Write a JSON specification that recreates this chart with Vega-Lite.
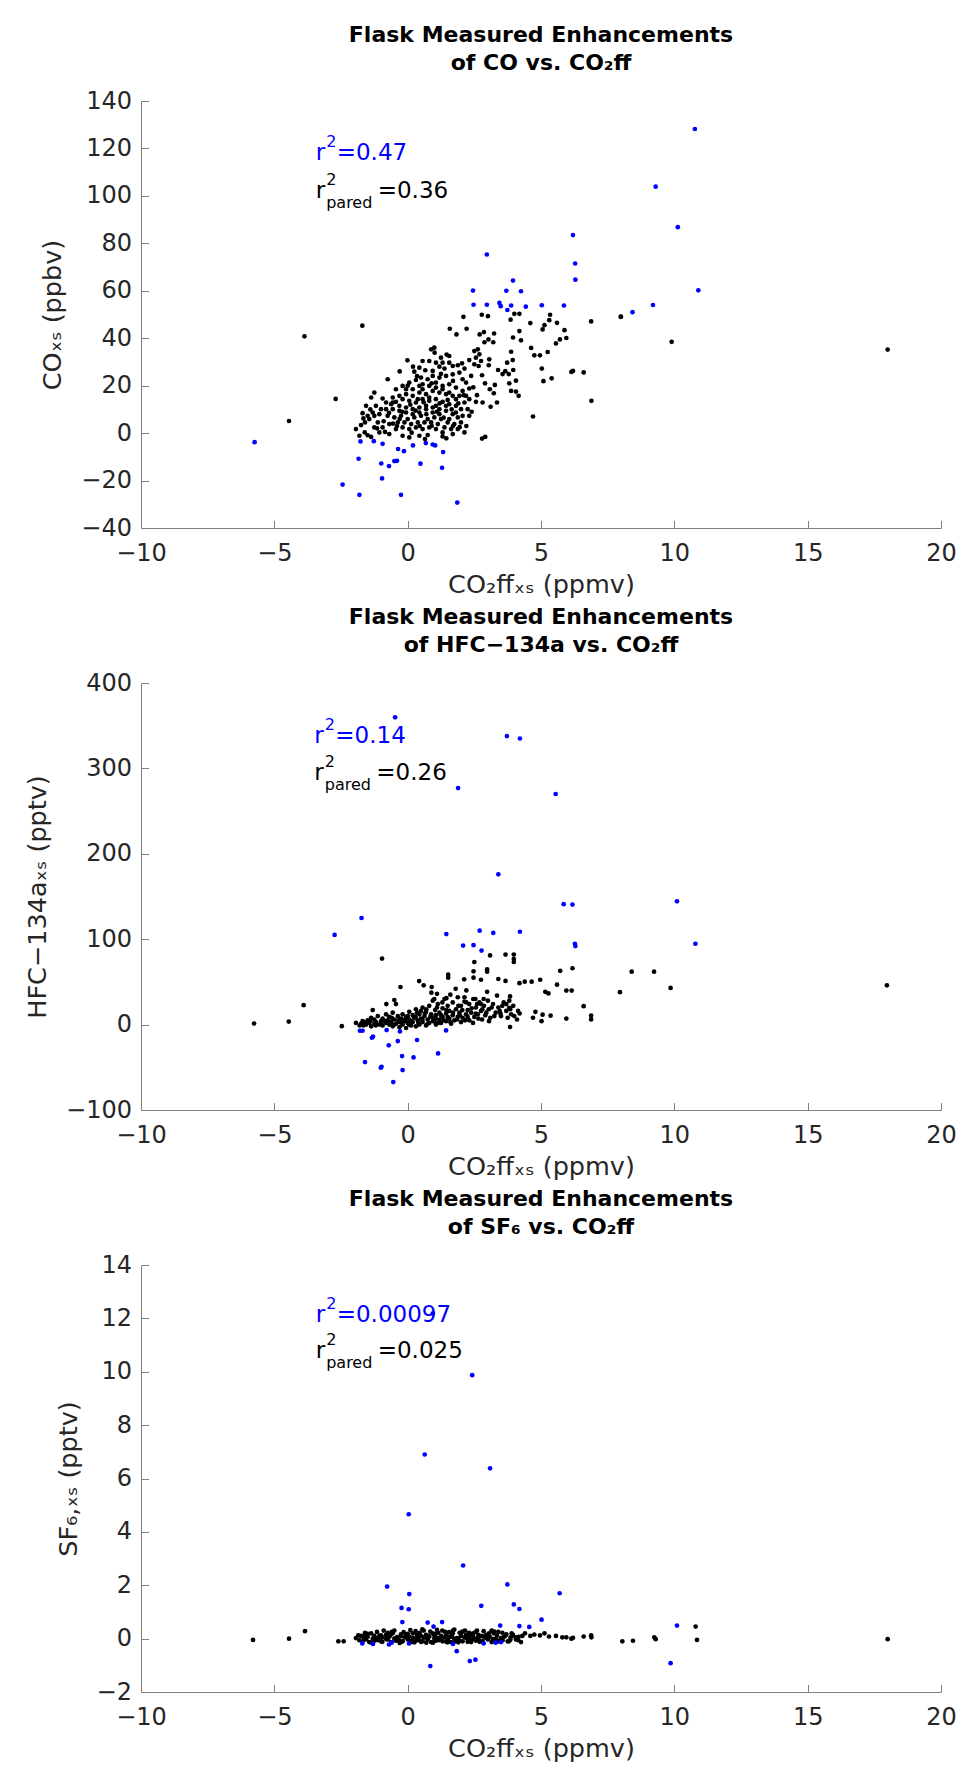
{
"$schema": "https://vega.github.io/schema/vega-lite/v6.json",
"background": "white",
"padding": {"left": 25, "top": 24, "right": 5, "bottom": 5},
"bounds": "flush",
"spacing": 155,
"config": {
  "font": "DejaVu Sans",
  "view": {"stroke": null},
  "axis": {"domainColor": "#808080", "tickColor": "#808080", "tickSize": -7.5, "labelFontSize": 24, "labelColor": "#262626", "labelFont": "DejaVu Sans", "titleFont": "DejaVu Sans", "titleFontSize": 25.5, "titleFontWeight": "normal", "titleColor": "#262626", "grid": false, "labelFlush": false, "labelOverlap": false},
  "axisX": {"labelPadding": 21, "titlePadding": 7},
  "axisY": {"labelPadding": 17, "titlePadding": 15},
  "title": {"font": "DejaVu Sans", "fontSize": 22, "fontWeight": "bold", "color": "#000000", "lineHeight": 28, "offset": 14, "anchor": "middle", "frame": "group"}
},
"datasets": {
"lab": [
{"p":1,"x":-3.45,"y":115,"part":"r","line":"all","t":"r"},
{"p":1,"x":-3.45,"y":115,"part":"sup","line":"all","t":"2"},
{"p":1,"x":-3.45,"y":115,"part":"eq1","line":"all","t":"=0.47"},
{"p":1,"x":-3.45,"y":99,"part":"r","line":"pared","t":"r"},
{"p":1,"x":-3.45,"y":99,"part":"sup","line":"pared","t":"2"},
{"p":1,"x":-3.45,"y":99,"part":"sub","line":"pared","t":"pared"},
{"p":1,"x":-3.45,"y":99,"part":"eq2","line":"pared","t":"=0.36"},
{"p":2,"x":-3.5,"y":330,"part":"r","line":"all","t":"r"},
{"p":2,"x":-3.5,"y":330,"part":"sup","line":"all","t":"2"},
{"p":2,"x":-3.5,"y":330,"part":"eq1","line":"all","t":"=0.14"},
{"p":2,"x":-3.5,"y":286,"part":"r","line":"pared","t":"r"},
{"p":2,"x":-3.5,"y":286,"part":"sup","line":"pared","t":"2"},
{"p":2,"x":-3.5,"y":286,"part":"sub","line":"pared","t":"pared"},
{"p":2,"x":-3.5,"y":286,"part":"eq2","line":"pared","t":"=0.26"},
{"p":3,"x":-3.45,"y":11.87,"part":"r","line":"all","t":"r"},
{"p":3,"x":-3.45,"y":11.87,"part":"sup","line":"all","t":"2"},
{"p":3,"x":-3.45,"y":11.87,"part":"eq1","line":"all","t":"=0.00097"},
{"p":3,"x":-3.45,"y":10.52,"part":"r","line":"pared","t":"r"},
{"p":3,"x":-3.45,"y":10.52,"part":"sup","line":"pared","t":"2"},
{"p":3,"x":-3.45,"y":10.52,"part":"sub","line":"pared","t":"pared"},
{"p":3,"x":-3.45,"y":10.52,"part":"eq2","line":"pared","t":"=0.025"}
],
"pts": [
{"p":1,"s":0,"x":2.09,"y":49.0},{"p":1,"s":0,"x":2.78,"y":49.9},{"p":1,"s":0,"x":3.01,"y":49.3},{"p":1,"s":0,"x":3.86,"y":47.8},{"p":1,"s":0,"x":4.0,"y":50.3},{"p":1,"s":0,"x":4.19,"y":50.3},{"p":1,"s":0,"x":4.6,"y":46.4},{"p":1,"s":0,"x":5.34,"y":49.9},{"p":1,"s":0,"x":5.31,"y":47.6},{"p":1,"s":0,"x":5.6,"y":46.5},{"p":1,"s":0,"x":5.13,"y":45.5},{"p":1,"s":0,"x":6.88,"y":47.1},{"p":1,"s":0,"x":7.99,"y":49.1},{"p":1,"s":0,"x":1.58,"y":44.0},{"p":1,"s":0,"x":1.83,"y":41.6},{"p":1,"s":0,"x":2.21,"y":44.0},{"p":1,"s":0,"x":2.7,"y":41.6},{"p":1,"s":0,"x":2.86,"y":42.6},{"p":1,"s":0,"x":3.24,"y":42.0},{"p":1,"s":0,"x":3.03,"y":39.5},{"p":1,"s":0,"x":3.21,"y":38.3},{"p":1,"s":0,"x":2.88,"y":38.3},{"p":1,"s":0,"x":4.19,"y":43.0},{"p":1,"s":0,"x":3.95,"y":40.3},{"p":1,"s":0,"x":4.25,"y":39.1},{"p":1,"s":0,"x":5.06,"y":43.7},{"p":1,"s":0,"x":5.88,"y":43.4},{"p":1,"s":0,"x":5.71,"y":39.5},{"p":1,"s":0,"x":5.95,"y":40.1},{"p":1,"s":0,"x":5.56,"y":37.8},{"p":1,"s":0,"x":4.63,"y":35.9},{"p":1,"s":0,"x":4.75,"y":32.8},{"p":1,"s":0,"x":4.96,"y":32.8},{"p":1,"s":0,"x":5.25,"y":34.2},{"p":1,"s":0,"x":5.03,"y":27.2},{"p":1,"s":0,"x":5.4,"y":23.1},{"p":1,"s":0,"x":5.09,"y":21.9},{"p":1,"s":0,"x":6.14,"y":25.8},{"p":1,"s":0,"x":6.2,"y":26.2},{"p":1,"s":0,"x":6.6,"y":25.6},{"p":1,"s":0,"x":6.89,"y":13.6},{"p":1,"s":0,"x":4.7,"y":7.0},{"p":1,"s":0,"x":3.88,"y":34.3},{"p":1,"s":0,"x":3.73,"y":29.7},{"p":1,"s":0,"x":3.94,"y":30.8},{"p":1,"s":0,"x":3.66,"y":26.1},{"p":1,"s":0,"x":3.56,"y":24.9},{"p":1,"s":0,"x":3.39,"y":26.6},{"p":1,"s":0,"x":3.79,"y":24.9},{"p":1,"s":0,"x":3.96,"y":26.6},{"p":1,"s":0,"x":4.06,"y":22.1},{"p":1,"s":0,"x":3.81,"y":21.0},{"p":1,"s":0,"x":3.88,"y":17.8},{"p":1,"s":0,"x":4.06,"y":17.5},{"p":1,"s":0,"x":4.16,"y":15.7},{"p":1,"s":0,"x":3.27,"y":20.3},{"p":1,"s":0,"x":3.08,"y":18.5},{"p":1,"s":0,"x":3.23,"y":16.8},{"p":1,"s":0,"x":3.35,"y":12.9},{"p":1,"s":0,"x":3.11,"y":11.1},{"p":1,"s":0,"x":2.81,"y":12.9},{"p":1,"s":0,"x":2.56,"y":13.2},{"p":1,"s":0,"x":2.79,"y":-2.3},{"p":1,"s":0,"x":2.91,"y":-1.6},{"p":1,"s":0,"x":2.31,"y":18.8},{"p":1,"s":0,"x":2.46,"y":19.3},{"p":1,"s":0,"x":3.06,"y":31.1},{"p":1,"s":0,"x":3.04,"y":28.6},{"p":1,"s":0,"x":2.5,"y":34.6},{"p":1,"s":0,"x":2.63,"y":35.3},{"p":1,"s":0,"x":2.69,"y":33.2},{"p":1,"s":0,"x":2.56,"y":31.8},{"p":1,"s":0,"x":2.5,"y":29.0},{"p":1,"s":0,"x":2.66,"y":28.3},{"p":1,"s":0,"x":2.79,"y":24.4},{"p":1,"s":0,"x":2.31,"y":30.8},{"p":1,"s":0,"x":2.75,"y":30.4},{"p":1,"s":0,"x":0.88,"y":35.3},{"p":1,"s":0,"x":1.01,"y":33.9},{"p":1,"s":0,"x":1.25,"y":31.8},{"p":1,"s":0,"x":1.46,"y":33.1},{"p":1,"s":0,"x":1.56,"y":32.5},{"p":1,"s":0,"x":-0.01,"y":30.7},{"p":1,"s":0,"x":0.44,"y":27.6},{"p":1,"s":0,"x":0.66,"y":26.5},{"p":1,"s":0,"x":0.94,"y":26.2},{"p":1,"s":0,"x":1.19,"y":28.0},{"p":1,"s":0,"x":1.38,"y":27.2},{"p":1,"s":0,"x":1.69,"y":28.3},{"p":1,"s":0,"x":1.88,"y":28.6},{"p":1,"s":0,"x":2.04,"y":29.4},{"p":1,"s":0,"x":2.13,"y":27.2},{"p":1,"s":0,"x":1.94,"y":25.5},{"p":1,"s":0,"x":1.69,"y":24.8},{"p":1,"s":0,"x":1.44,"y":24.1},{"p":1,"s":0,"x":1.19,"y":23.4},{"p":1,"s":0,"x":0.94,"y":24.1},{"p":1,"s":0,"x":0.75,"y":22.7},{"p":1,"s":0,"x":0.5,"y":23.4},{"p":1,"s":0,"x":0.31,"y":22.4},{"p":1,"s":0,"x":-0.75,"y":22.7},{"p":1,"s":0,"x":0.56,"y":20.6},{"p":1,"s":0,"x":0.81,"y":19.9},{"p":1,"s":0,"x":1.06,"y":21.3},{"p":1,"s":0,"x":1.31,"y":19.9},{"p":1,"s":0,"x":1.56,"y":20.6},{"p":1,"s":0,"x":1.81,"y":19.2},{"p":1,"s":0,"x":2.06,"y":17.8},{"p":1,"s":0,"x":1.94,"y":15.7},{"p":1,"s":0,"x":1.69,"y":15.7},{"p":1,"s":0,"x":1.44,"y":16.4},{"p":1,"s":0,"x":1.19,"y":17.1},{"p":1,"s":0,"x":0.94,"y":17.8},{"p":1,"s":0,"x":0.69,"y":16.4},{"p":1,"s":0,"x":0.44,"y":17.1},{"p":1,"s":0,"x":0.19,"y":15.7},{"p":1,"s":0,"x":-0.06,"y":16.4},{"p":1,"s":0,"x":-0.31,"y":15.7},{"p":1,"s":0,"x":-0.56,"y":15.0},{"p":1,"s":0,"x":-1.25,"y":17.1},{"p":1,"s":0,"x":-1.37,"y":15.0},{"p":1,"s":0,"x":-0.94,"y":14.6},{"p":1,"s":0,"x":-1.56,"y":11.5},{"p":1,"s":0,"x":-1.69,"y":8.4},{"p":1,"s":0,"x":-1.66,"y":6.2},{"p":1,"s":0,"x":-1.94,"y":1.7},{"p":1,"s":0,"x":-1.75,"y":3.4},{"p":1,"s":0,"x":-1.5,"y":-0.9},{"p":1,"s":0,"x":-1.61,"y":0.3},{"p":1,"s":0,"x":-1.37,"y":-1.6},{"p":1,"s":0,"x":-1.25,"y":7.3},{"p":1,"s":0,"x":-1.06,"y":8.0},{"p":1,"s":0,"x":-1.19,"y":11.5},{"p":1,"s":0,"x":-0.81,"y":10.1},{"p":1,"s":0,"x":-0.62,"y":12.2},{"p":1,"s":0,"x":-0.44,"y":13.2},{"p":1,"s":0,"x":-0.19,"y":14.3},{"p":1,"s":0,"x":0.06,"y":13.6},{"p":1,"s":0,"x":0.31,"y":12.9},{"p":1,"s":0,"x":0.56,"y":14.3},{"p":1,"s":0,"x":0.81,"y":13.6},{"p":1,"s":0,"x":1.06,"y":14.3},{"p":1,"s":0,"x":1.31,"y":13.2},{"p":1,"s":0,"x":1.56,"y":12.2},{"p":1,"s":0,"x":1.81,"y":11.5},{"p":1,"s":0,"x":2.0,"y":10.1},{"p":1,"s":0,"x":2.06,"y":7.3},{"p":1,"s":0,"x":1.88,"y":6.6},{"p":1,"s":0,"x":1.69,"y":8.0},{"p":1,"s":0,"x":1.44,"y":9.4},{"p":1,"s":0,"x":1.19,"y":10.1},{"p":1,"s":0,"x":0.94,"y":10.8},{"p":1,"s":0,"x":0.69,"y":10.1},{"p":1,"s":0,"x":0.44,"y":10.8},{"p":1,"s":0,"x":0.19,"y":10.1},{"p":1,"s":0,"x":-0.06,"y":10.8},{"p":1,"s":0,"x":-0.31,"y":9.4},{"p":1,"s":0,"x":-0.56,"y":10.1},{"p":1,"s":0,"x":-0.75,"y":7.3},{"p":1,"s":0,"x":-0.5,"y":6.6},{"p":1,"s":0,"x":-0.25,"y":7.3},{"p":1,"s":0,"x":0.0,"y":5.9},{"p":1,"s":0,"x":0.25,"y":6.6},{"p":1,"s":0,"x":0.5,"y":7.3},{"p":1,"s":0,"x":0.75,"y":5.9},{"p":1,"s":0,"x":1.0,"y":6.6},{"p":1,"s":0,"x":1.25,"y":5.9},{"p":1,"s":0,"x":1.5,"y":4.5},{"p":1,"s":0,"x":1.75,"y":3.8},{"p":1,"s":0,"x":2.0,"y":4.5},{"p":1,"s":0,"x":2.13,"y":0.3},{"p":1,"s":0,"x":1.69,"y":-0.4},{"p":1,"s":0,"x":1.31,"y":0.3},{"p":1,"s":0,"x":1.06,"y":1.7},{"p":1,"s":0,"x":0.81,"y":2.4},{"p":1,"s":0,"x":0.56,"y":1.7},{"p":1,"s":0,"x":0.31,"y":2.4},{"p":1,"s":0,"x":0.06,"y":1.7},{"p":1,"s":0,"x":-0.19,"y":2.4},{"p":1,"s":0,"x":-0.44,"y":1.7},{"p":1,"s":0,"x":-0.69,"y":3.8},{"p":1,"s":0,"x":-0.94,"y":2.4},{"p":1,"s":0,"x":-1.12,"y":4.5},{"p":1,"s":0,"x":-1.44,"y":5.9},{"p":1,"s":0,"x":-0.19,"y":-1.1},{"p":1,"s":0,"x":0.06,"y":-1.8},{"p":1,"s":0,"x":0.44,"y":-1.1},{"p":1,"s":0,"x":0.75,"y":-0.8},{"p":1,"s":0,"x":1.31,"y":-1.4},{"p":1,"s":0,"x":-0.69,"y":-0.4},{"p":1,"s":0,"x":-1.06,"y":0.3},{"p":1,"s":0,"x":0.63,"y":4.5},{"p":1,"s":0,"x":0.88,"y":4.5},{"p":1,"s":0,"x":0.38,"y":4.5},{"p":1,"s":0,"x":0.13,"y":3.8},{"p":1,"s":0,"x":-0.12,"y":4.5},{"p":1,"s":0,"x":-0.37,"y":4.5},{"p":1,"s":0,"x":1.13,"y":3.8},{"p":1,"s":0,"x":1.38,"y":2.4},{"p":1,"s":0,"x":1.63,"y":1.7},{"p":1,"s":0,"x":1.88,"y":1.7},{"p":1,"s":0,"x":0.25,"y":25.9},{"p":1,"s":0,"x":0.06,"y":21.3},{"p":1,"s":0,"x":-0.19,"y":19.9},{"p":1,"s":0,"x":-0.44,"y":18.5},{"p":1,"s":0,"x":-0.06,"y":18.5},{"p":1,"s":0,"x":0.56,"y":18.5},{"p":1,"s":0,"x":1.31,"y":18.5},{"p":1,"s":0,"x":1.06,"y":19.2},{"p":1,"s":0,"x":1.56,"y":17.1},{"p":1,"s":0,"x":1.81,"y":14.3},{"p":1,"s":0,"x":2.13,"y":12.9},{"p":1,"s":0,"x":2.19,"y":15.7},{"p":1,"s":0,"x":2.38,"y":24.1},{"p":1,"s":0,"x":2.19,"y":21.3},{"p":1,"s":0,"x":2.06,"y":22.7},{"p":1,"s":0,"x":2.31,"y":14.3},{"p":1,"s":0,"x":2.25,"y":10.1},{"p":1,"s":0,"x":2.31,"y":7.3},{"p":1,"s":0,"x":0.81,"y":30.4},{"p":1,"s":0,"x":0.56,"y":30.4},{"p":1,"s":0,"x":1.06,"y":29.7},{"p":1,"s":0,"x":1.56,"y":29.7},{"p":1,"s":0,"x":1.31,"y":29.7},{"p":1,"s":0,"x":0.44,"y":19.9},{"p":1,"s":0,"x":0.19,"y":18.5},{"p":1,"s":0,"x":0.69,"y":11.5},{"p":1,"s":0,"x":0.94,"y":8.7},{"p":1,"s":0,"x":1.19,"y":8.0},{"p":1,"s":0,"x":0.44,"y":8.7},{"p":1,"s":0,"x":0.19,"y":8.0},{"p":1,"s":0,"x":-0.06,"y":8.7},{"p":1,"s":0,"x":-0.31,"y":11.5},{"p":1,"s":0,"x":-0.56,"y":12.9},{"p":1,"s":0,"x":-0.81,"y":12.9},{"p":1,"s":0,"x":-1.0,"y":10.1},{"p":1,"s":0,"x":-1.31,"y":8.7},{"p":1,"s":0,"x":-1.5,"y":7.3},{"p":1,"s":0,"x":-1.25,"y":2.4},{"p":1,"s":0,"x":-1.81,"y":-1.1},{"p":1,"s":0,"x":1.56,"y":5.9},{"p":1,"s":0,"x":1.81,"y":8.7},{"p":1,"s":0,"x":0.81,"y":15.0},{"p":1,"s":0,"x":1.06,"y":11.5},{"p":1,"s":0,"x":1.44,"y":11.5},{"p":1,"s":0,"x":0.38,"y":14.3},{"p":1,"s":0,"x":-1.7,"y":45.3},{"p":1,"s":0,"x":-3.87,"y":40.8},{"p":1,"s":0,"x":-4.45,"y":5.1},{"p":1,"s":0,"x":-2.7,"y":14.4},{"p":1,"s":0,"x":18.0,"y":35.2},{"p":1,"s":0,"x":9.9,"y":38.5},{"p":1,"s":0,"x":8.0,"y":49.0},
{"p":1,"s":0,"x":-0.9,"y":5},{"p":1,"s":0,"x":-0.7,"y":8.5},{"p":1,"s":0,"x":-0.4,"y":3},{"p":1,"s":0,"x":-0.2,"y":9},{"p":1,"s":0,"x":0.1,"y":12},{"p":1,"s":0,"x":0.3,"y":9.5},{"p":1,"s":0,"x":0.45,"y":3},{"p":1,"s":0,"x":0.6,"y":13},{"p":1,"s":0,"x":0.7,"y":8},{"p":1,"s":0,"x":0.9,"y":3},{"p":1,"s":0,"x":1.1,"y":9},{"p":1,"s":0,"x":1.2,"y":12.5},{"p":1,"s":0,"x":1.35,"y":6.5},{"p":1,"s":0,"x":1.5,"y":14},{"p":1,"s":0,"x":1.65,"y":10},{"p":1,"s":0,"x":1.7,"y":3},{"p":1,"s":0,"x":1.9,"y":12.5},{"p":1,"s":0,"x":2.1,"y":16},{"p":1,"s":0,"x":0.0,"y":20},{"p":1,"s":0,"x":0.35,"y":24},{"p":1,"s":0,"x":0.9,"y":21},{"p":1,"s":0,"x":1.25,"y":25},{"p":1,"s":0,"x":1.7,"y":22},{"p":1,"s":0,"x":0.2,"y":28},{"p":1,"s":0,"x":-0.3,"y":6},{"p":1,"s":0,"x":-0.55,"y":4},{"p":1,"s":0,"x":-0.85,"y":0.5},{"p":1,"s":0,"x":-1.15,"y":2},{"p":1,"s":0,"x":-1.4,"y":10},{"p":1,"s":0,"x":-1.6,"y":4.5},{"p":1,"s":0,"x":0.65,"y":-2.5},{"p":1,"s":0,"x":1.45,"y":-2.2},{"p":1,"s":0,"x":0.15,"y":0.2},{"p":1,"s":0,"x":1.95,"y":2.5},{"p":1,"s":0,"x":2.2,"y":3},{"p":1,"s":0,"x":2.4,"y":9},{"p":1,"s":0,"x":2.6,"y":16},{"p":1,"s":0,"x":2.9,"y":21},{"p":1,"s":0,"x":1.0,"y":36},{"p":1,"s":0,"x":-0.3,"y":26},
{"p":1,"s":1,"x":2.97,"y":75.3},{"p":1,"s":1,"x":6.28,"y":71.5},{"p":1,"s":1,"x":6.29,"y":64.7},{"p":1,"s":1,"x":3.95,"y":64.3},{"p":1,"s":1,"x":2.45,"y":60.1},{"p":1,"s":1,"x":3.7,"y":60.0},{"p":1,"s":1,"x":4.25,"y":59.8},{"p":1,"s":1,"x":2.47,"y":54.1},{"p":1,"s":1,"x":2.97,"y":54.1},{"p":1,"s":1,"x":3.44,"y":54.9},{"p":1,"s":1,"x":3.49,"y":53.5},{"p":1,"s":1,"x":3.88,"y":53.8},{"p":1,"s":1,"x":3.74,"y":51.9},{"p":1,"s":1,"x":4.43,"y":53.3},{"p":1,"s":1,"x":5.03,"y":53.9},{"p":1,"s":1,"x":5.86,"y":53.8},{"p":1,"s":1,"x":8.43,"y":51.0},{"p":1,"s":1,"x":10.77,"y":128.2},{"p":1,"s":1,"x":9.3,"y":103.9},{"p":1,"s":1,"x":10.13,"y":86.8},{"p":1,"s":1,"x":6.2,"y":83.5},{"p":1,"s":1,"x":10.9,"y":60.2},{"p":1,"s":1,"x":9.2,"y":54.0},{"p":1,"s":1,"x":-5.74,"y":-3.8},{"p":1,"s":1,"x":-1.77,"y":-3.5},{"p":1,"s":1,"x":-1.27,"y":-3.4},{"p":1,"s":1,"x":-0.94,"y":-4.5},{"p":1,"s":1,"x":-0.36,"y":-6.7},{"p":1,"s":1,"x":-0.14,"y":-7.6},{"p":1,"s":1,"x":0.2,"y":-5.2},{"p":1,"s":1,"x":0.68,"y":-4.2},{"p":1,"s":1,"x":0.94,"y":-4.8},{"p":1,"s":1,"x":1.03,"y":-5.2},{"p":1,"s":1,"x":1.33,"y":-8.0},{"p":1,"s":1,"x":-1.84,"y":-10.8},{"p":1,"s":1,"x":-0.99,"y":-12.8},{"p":1,"s":1,"x":-0.7,"y":-13.9},{"p":1,"s":1,"x":-0.5,"y":-11.8},{"p":1,"s":1,"x":-0.4,"y":-11.7},{"p":1,"s":1,"x":0.48,"y":-12.9},{"p":1,"s":1,"x":1.29,"y":-14.6},{"p":1,"s":1,"x":-0.96,"y":-19.1},{"p":1,"s":1,"x":-2.44,"y":-21.7},{"p":1,"s":1,"x":-1.81,"y":-26.0},{"p":1,"s":1,"x":-0.25,"y":-26.0},{"p":1,"s":1,"x":1.86,"y":-29.3},

{"p":2,"s":0,"x":-1.94,"y":2},{"p":2,"s":0,"x":-1.75,"y":1},{"p":2,"s":0,"x":-1.69,"y":4},{"p":2,"s":0,"x":-1.66,"y":-1},{"p":2,"s":0,"x":-1.61,"y":3},{"p":2,"s":0,"x":-1.56,"y":0},{"p":2,"s":0,"x":-1.5,"y":5},{"p":2,"s":0,"x":-1.44,"y":2},{"p":2,"s":0,"x":-1.37,"y":8},{"p":2,"s":0,"x":-1.37,"y":-2},{"p":2,"s":0,"x":-1.31,"y":17},{"p":2,"s":0,"x":-1.25,"y":1},{"p":2,"s":0,"x":-1.25,"y":6},{"p":2,"s":0,"x":-1.19,"y":3},{"p":2,"s":0,"x":-1.12,"y":10},{"p":2,"s":0,"x":-1.06,"y":0},{"p":2,"s":0,"x":-1.0,"y":4},{"p":2,"s":0,"x":-0.94,"y":7},{"p":2,"s":0,"x":-0.94,"y":-1},{"p":2,"s":0,"x":-0.81,"y":2},{"p":2,"s":0,"x":-0.81,"y":12},{"p":2,"s":0,"x":-0.75,"y":5},{"p":2,"s":0,"x":-0.69,"y":0},{"p":2,"s":0,"x":-0.69,"y":9},{"p":2,"s":0,"x":-0.62,"y":3},{"p":2,"s":0,"x":-0.56,"y":14},{"p":2,"s":0,"x":-0.56,"y":-2},{"p":2,"s":0,"x":-0.5,"y":6},{"p":2,"s":0,"x":-0.44,"y":1},{"p":2,"s":0,"x":-0.44,"y":24},{"p":2,"s":0,"x":-0.37,"y":10},{"p":2,"s":0,"x":-0.31,"y":3},{"p":2,"s":0,"x":-0.31,"y":-3},{"p":2,"s":0,"x":-0.25,"y":7},{"p":2,"s":0,"x":-0.19,"y":12},{"p":2,"s":0,"x":-0.19,"y":0},{"p":2,"s":0,"x":-0.12,"y":4},{"p":2,"s":0,"x":-0.06,"y":9},{"p":2,"s":0,"x":-0.06,"y":-4},{"p":2,"s":0,"x":0.0,"y":2},{"p":2,"s":0,"x":0.06,"y":15},{"p":2,"s":0,"x":0.06,"y":6},{"p":2,"s":0,"x":0.13,"y":-1},{"p":2,"s":0,"x":0.19,"y":11},{"p":2,"s":0,"x":0.19,"y":3},{"p":2,"s":0,"x":0.25,"y":8},{"p":2,"s":0,"x":0.31,"y":-2},{"p":2,"s":0,"x":0.31,"y":18},{"p":2,"s":0,"x":0.38,"y":5},{"p":2,"s":0,"x":0.44,"y":12},{"p":2,"s":0,"x":0.44,"y":0},{"p":2,"s":0,"x":0.5,"y":7},{"p":2,"s":0,"x":0.56,"y":20},{"p":2,"s":0,"x":0.56,"y":3},{"p":2,"s":0,"x":0.63,"y":10},{"p":2,"s":0,"x":0.69,"y":-1},{"p":2,"s":0,"x":0.69,"y":15},{"p":2,"s":0,"x":0.75,"y":6},{"p":2,"s":0,"x":0.81,"y":22},{"p":2,"s":0,"x":0.81,"y":2},{"p":2,"s":0,"x":0.88,"y":12},{"p":2,"s":0,"x":0.94,"y":8},{"p":2,"s":0,"x":0.94,"y":28},{"p":2,"s":0,"x":1.0,"y":4},{"p":2,"s":0,"x":1.03,"y":17},{"p":2,"s":0,"x":1.06,"y":0},{"p":2,"s":0,"x":1.06,"y":11},{"p":2,"s":0,"x":1.13,"y":24},{"p":2,"s":0,"x":1.19,"y":6},{"p":2,"s":0,"x":1.19,"y":14},{"p":2,"s":0,"x":1.25,"y":2},{"p":2,"s":0,"x":1.31,"y":19},{"p":2,"s":0,"x":1.31,"y":9},{"p":2,"s":0,"x":1.38,"y":30},{"p":2,"s":0,"x":1.44,"y":4},{"p":2,"s":0,"x":1.44,"y":13},{"p":2,"s":0,"x":1.5,"y":22},{"p":2,"s":0,"x":1.56,"y":7},{"p":2,"s":0,"x":1.56,"y":16},{"p":2,"s":0,"x":1.63,"y":1},{"p":2,"s":0,"x":1.69,"y":26},{"p":2,"s":0,"x":1.69,"y":11},{"p":2,"s":0,"x":1.75,"y":5},{"p":2,"s":0,"x":1.81,"y":18},{"p":2,"s":0,"x":1.88,"y":9},{"p":2,"s":0,"x":1.88,"y":32},{"p":2,"s":0,"x":1.94,"y":14},{"p":2,"s":0,"x":2.0,"y":3},{"p":2,"s":0,"x":2.0,"y":22},{"p":2,"s":0,"x":2.06,"y":8},{"p":2,"s":0,"x":2.13,"y":27},{"p":2,"s":0,"x":2.19,"y":12},{"p":2,"s":0,"x":2.25,"y":17},{"p":2,"s":0,"x":2.31,"y":5},{"p":2,"s":0,"x":2.31,"y":24},{"p":2,"s":0,"x":2.38,"y":14},{"p":2,"s":0,"x":2.46,"y":30},{"p":2,"s":0,"x":2.5,"y":9},{"p":2,"s":0,"x":2.56,"y":20},{"p":2,"s":0,"x":2.63,"y":12},{"p":2,"s":0,"x":2.69,"y":26},{"p":2,"s":0,"x":2.75,"y":16},{"p":2,"s":0,"x":2.79,"y":6},{"p":2,"s":0,"x":2.86,"y":22},{"p":2,"s":0,"x":2.91,"y":11},{"p":2,"s":0,"x":3.01,"y":28},{"p":2,"s":0,"x":3.04,"y":18},{"p":2,"s":0,"x":3.1,"y":8},{"p":2,"s":0,"x":3.2,"y":24},{"p":2,"s":0,"x":3.3,"y":14},{"p":2,"s":0,"x":3.4,"y":20},{"p":2,"s":0,"x":3.5,"y":10},{"p":2,"s":0,"x":3.6,"y":26},{"p":2,"s":0,"x":3.7,"y":16},{"p":2,"s":0,"x":3.88,"y":12},{"p":2,"s":0,"x":3.96,"y":22},{"p":2,"s":0,"x":4.1,"y":6},{"p":2,"s":0,"x":4.2,"y":13},{"p":2,"s":0,"x":0.43,"y":51},{"p":2,"s":0,"x":0.6,"y":46},{"p":2,"s":0,"x":-0.27,"y":44},{"p":2,"s":0,"x":-0.5,"y":28.7},{"p":2,"s":0,"x":-0.8,"y":24},{"p":2,"s":0,"x":0.89,"y":37.4},{"p":2,"s":0,"x":1.45,"y":31},{"p":2,"s":0,"x":2.13,"y":32},{"p":2,"s":0,"x":2.54,"y":30},{"p":2,"s":0,"x":2.75,"y":24},{"p":2,"s":0,"x":2.98,"y":38.4},{"p":2,"s":0,"x":3.48,"y":12.8},{"p":2,"s":0,"x":3.7,"y":24},{"p":2,"s":0,"x":3.81,"y":28},{"p":2,"s":0,"x":3.84,"y":33},{"p":2,"s":0,"x":3.84,"y":-2.8},{"p":2,"s":0,"x":3.81,"y":19.6},{"p":2,"s":0,"x":4.14,"y":16},{"p":2,"s":0,"x":4.7,"y":8},{"p":2,"s":0,"x":4.79,"y":15},{"p":2,"s":0,"x":3.98,"y":82},{"p":2,"s":0,"x":3.98,"y":76.8},{"p":2,"s":0,"x":3.98,"y":73.3},{"p":2,"s":0,"x":3.67,"y":82},{"p":2,"s":0,"x":3.09,"y":81},{"p":2,"s":0,"x":2.98,"y":64.6},{"p":2,"s":0,"x":2.98,"y":62},{"p":2,"s":0,"x":2.47,"y":62.4},{"p":2,"s":0,"x":2.5,"y":73.3},{"p":2,"s":0,"x":1.52,"y":58.5},{"p":2,"s":0,"x":1.52,"y":55},{"p":2,"s":0,"x":2.12,"y":53},{"p":2,"s":0,"x":2.47,"y":55},{"p":2,"s":0,"x":2.75,"y":52.5},{"p":2,"s":0,"x":3.4,"y":53.4},{"p":2,"s":0,"x":3.67,"y":51.2},{"p":2,"s":0,"x":4.19,"y":48.5},{"p":2,"s":0,"x":4.39,"y":50.3},{"p":2,"s":0,"x":4.65,"y":50.3},{"p":2,"s":0,"x":4.97,"y":52.5},{"p":2,"s":0,"x":5.6,"y":46.8},{"p":2,"s":0,"x":5.16,"y":38.4},{"p":2,"s":0,"x":5.28,"y":36.5},{"p":2,"s":0,"x":5.36,"y":10.6},{"p":2,"s":0,"x":5.02,"y":4},{"p":2,"s":0,"x":5.06,"y":11.6},{"p":2,"s":0,"x":5.95,"y":7},{"p":2,"s":0,"x":5.95,"y":39.8},{"p":2,"s":0,"x":6.15,"y":39.8},{"p":2,"s":0,"x":5.72,"y":63},{"p":2,"s":0,"x":6.18,"y":66},{"p":2,"s":0,"x":6.6,"y":21.6},{"p":2,"s":0,"x":6.88,"y":10.6},{"p":2,"s":0,"x":6.88,"y":6.1},{"p":2,"s":0,"x":7.96,"y":38},{"p":2,"s":0,"x":8.4,"y":62},{"p":2,"s":0,"x":9.24,"y":62},{"p":2,"s":0,"x":9.86,"y":43},{"p":2,"s":0,"x":17.97,"y":46},{"p":2,"s":0,"x":-0.96,"y":77.3},{"p":2,"s":0,"x":-2.47,"y":-1.8},{"p":2,"s":0,"x":-3.9,"y":22.8},{"p":2,"s":0,"x":-4.46,"y":3.5},{"p":2,"s":0,"x":-5.76,"y":1.3},{"p":2,"s":0,"x":1.1,"y":36},{"p":2,"s":0,"x":1.8,"y":42},{"p":2,"s":0,"x":0.9,"y":44},{"p":2,"s":0,"x":1.6,"y":35},{"p":2,"s":0,"x":2.2,"y":40},
{"p":2,"s":0,"x":-1.8,"y":-1},{"p":2,"s":0,"x":-1.6,"y":1.5},{"p":2,"s":0,"x":-1.4,"y":4},{"p":2,"s":0,"x":-1.2,"y":-1},{"p":2,"s":0,"x":-1.0,"y":1},{"p":2,"s":0,"x":-0.85,"y":4},{"p":2,"s":0,"x":-0.7,"y":2},{"p":2,"s":0,"x":-0.5,"y":0},{"p":2,"s":0,"x":-0.35,"y":5},{"p":2,"s":0,"x":-0.2,"y":2},{"p":2,"s":0,"x":-0.1,"y":6},{"p":2,"s":0,"x":0.05,"y":0},{"p":2,"s":0,"x":0.15,"y":4},{"p":2,"s":0,"x":0.3,"y":9},{"p":2,"s":0,"x":0.4,"y":2},{"p":2,"s":0,"x":0.55,"y":6},{"p":2,"s":0,"x":0.65,"y":13},{"p":2,"s":0,"x":0.75,"y":1},{"p":2,"s":0,"x":0.85,"y":9},{"p":2,"s":0,"x":0.95,"y":4},{"p":2,"s":0,"x":1.05,"y":7},{"p":2,"s":0,"x":1.15,"y":2},{"p":2,"s":0,"x":1.25,"y":11},{"p":2,"s":0,"x":1.35,"y":5},{"p":2,"s":0,"x":1.5,"y":9},{"p":2,"s":0,"x":1.6,"y":3},{"p":2,"s":0,"x":1.7,"y":14},{"p":2,"s":0,"x":1.85,"y":6},{"p":2,"s":0,"x":1.95,"y":11},{"p":2,"s":0,"x":2.05,"y":17},{"p":2,"s":0,"x":2.15,"y":5},{"p":2,"s":0,"x":2.25,"y":9},{"p":2,"s":0,"x":2.4,"y":19},{"p":2,"s":0,"x":2.45,"y":2},{"p":2,"s":0,"x":2.55,"y":13},{"p":2,"s":0,"x":2.65,"y":7},{"p":2,"s":0,"x":2.8,"y":18},{"p":2,"s":0,"x":2.95,"y":14},{"p":2,"s":0,"x":3.05,"y":4},{"p":2,"s":0,"x":3.15,"y":20},{"p":2,"s":0,"x":3.25,"y":10},{"p":2,"s":0,"x":3.45,"y":16},{"p":2,"s":0,"x":3.55,"y":22},{"p":2,"s":0,"x":3.75,"y":8},{"p":2,"s":0,"x":3.85,"y":18},{"p":2,"s":0,"x":4.0,"y":10},{"p":2,"s":0,"x":0.35,"y":14},{"p":2,"s":0,"x":0.7,"y":18},{"p":2,"s":0,"x":1.1,"y":20},{"p":2,"s":0,"x":1.45,"y":17},{"p":2,"s":0,"x":1.9,"y":22},{"p":2,"s":0,"x":2.2,"y":26},{"p":2,"s":0,"x":2.6,"y":24},{"p":2,"s":0,"x":0.0,"y":10},{"p":2,"s":0,"x":-0.6,"y":8},{"p":2,"s":0,"x":0.5,"y":16},{"p":2,"s":0,"x":1.3,"y":26},{"p":2,"s":0,"x":2.85,"y":30},{"p":2,"s":0,"x":3.35,"y":34},{"p":2,"s":0,"x":1.0,"y":30},
{"p":2,"s":1,"x":-0.47,"y":359.8},{"p":2,"s":1,"x":3.72,"y":337.8},{"p":2,"s":1,"x":4.21,"y":335},{"p":2,"s":1,"x":1.89,"y":277},{"p":2,"s":1,"x":5.55,"y":270},{"p":2,"s":1,"x":3.4,"y":176},{"p":2,"s":1,"x":5.85,"y":141},{"p":2,"s":1,"x":6.18,"y":140.5},{"p":2,"s":1,"x":10.1,"y":144.4},{"p":2,"s":1,"x":-1.73,"y":124.8},{"p":2,"s":1,"x":-2.74,"y":105},{"p":2,"s":1,"x":1.45,"y":106},{"p":2,"s":1,"x":2.7,"y":110},{"p":2,"s":1,"x":3.21,"y":107.3},{"p":2,"s":1,"x":4.21,"y":108.7},{"p":2,"s":1,"x":2.08,"y":92.5},{"p":2,"s":1,"x":2.47,"y":93},{"p":2,"s":1,"x":2.77,"y":86.7},{"p":2,"s":1,"x":6.27,"y":94.7},{"p":2,"s":1,"x":6.29,"y":92},{"p":2,"s":1,"x":10.79,"y":94.7},{"p":2,"s":1,"x":-1.79,"y":-7.2},{"p":2,"s":1,"x":-1.69,"y":-7.2},{"p":2,"s":1,"x":-1.34,"y":-15.4},{"p":2,"s":1,"x":-1.3,"y":-14},{"p":2,"s":1,"x":-0.71,"y":-24.3},{"p":2,"s":1,"x":-0.37,"y":-19.3},{"p":2,"s":1,"x":-0.79,"y":-6.4},{"p":2,"s":1,"x":-0.29,"y":-8.0},{"p":2,"s":1,"x":0.35,"y":-18},{"p":2,"s":1,"x":1.44,"y":-6.8},{"p":2,"s":1,"x":-1.6,"y":-43.9},{"p":2,"s":1,"x":-0.98,"y":-49.5},{"p":2,"s":1,"x":-1.01,"y":-50.5},{"p":2,"s":1,"x":-0.21,"y":-36.9},{"p":2,"s":1,"x":0.22,"y":-38.4},{"p":2,"s":1,"x":1.14,"y":-33.7},{"p":2,"s":1,"x":-0.19,"y":-53.2},{"p":2,"s":1,"x":-0.54,"y":-67.3},

{"p":3,"s":0,"x":-1.94,"y":0.02},{"p":3,"s":0,"x":-1.81,"y":-0.06},{"p":3,"s":0,"x":-1.75,"y":0.1},{"p":3,"s":0,"x":-1.69,"y":-0.1},{"p":3,"s":0,"x":-1.66,"y":0.05},{"p":3,"s":0,"x":-1.61,"y":0.14},{"p":3,"s":0,"x":-1.56,"y":-0.03},{"p":3,"s":0,"x":-1.5,"y":0.07},{"p":3,"s":0,"x":-1.44,"y":-0.13},{"p":3,"s":0,"x":-1.37,"y":0.2},{"p":3,"s":0,"x":-1.31,"y":0.0},{"p":3,"s":0,"x":-1.25,"y":-0.08},{"p":3,"s":0,"x":-1.19,"y":0.02},{"p":3,"s":0,"x":-1.12,"y":-0.06},{"p":3,"s":0,"x":-1.06,"y":0.1},{"p":3,"s":0,"x":-1.0,"y":-0.1},{"p":3,"s":0,"x":-0.94,"y":0.05},{"p":3,"s":0,"x":-0.81,"y":0.14},{"p":3,"s":0,"x":-0.75,"y":-0.03},{"p":3,"s":0,"x":-0.69,"y":0.07},{"p":3,"s":0,"x":-0.62,"y":-0.13},{"p":3,"s":0,"x":-0.56,"y":0.2},{"p":3,"s":0,"x":-0.5,"y":0.0},{"p":3,"s":0,"x":-0.44,"y":-0.08},{"p":3,"s":0,"x":-0.37,"y":0.02},{"p":3,"s":0,"x":-0.31,"y":-0.06},{"p":3,"s":0,"x":-0.25,"y":0.1},{"p":3,"s":0,"x":-0.19,"y":-0.1},{"p":3,"s":0,"x":-0.12,"y":0.05},{"p":3,"s":0,"x":-0.06,"y":0.14},{"p":3,"s":0,"x":0.0,"y":-0.03},{"p":3,"s":0,"x":0.06,"y":0.07},{"p":3,"s":0,"x":0.13,"y":-0.13},{"p":3,"s":0,"x":0.19,"y":0.2},{"p":3,"s":0,"x":0.25,"y":0.0},{"p":3,"s":0,"x":0.31,"y":-0.08},{"p":3,"s":0,"x":0.38,"y":0.02},{"p":3,"s":0,"x":0.44,"y":-0.06},{"p":3,"s":0,"x":0.5,"y":0.1},{"p":3,"s":0,"x":0.56,"y":-0.1},{"p":3,"s":0,"x":0.63,"y":0.05},{"p":3,"s":0,"x":0.69,"y":0.14},{"p":3,"s":0,"x":0.75,"y":-0.03},{"p":3,"s":0,"x":0.81,"y":0.07},{"p":3,"s":0,"x":0.88,"y":-0.13},{"p":3,"s":0,"x":0.94,"y":0.2},{"p":3,"s":0,"x":1.0,"y":0.0},{"p":3,"s":0,"x":1.06,"y":-0.08},{"p":3,"s":0,"x":1.13,"y":0.02},{"p":3,"s":0,"x":1.19,"y":-0.06},{"p":3,"s":0,"x":1.25,"y":0.1},{"p":3,"s":0,"x":1.31,"y":-0.1},{"p":3,"s":0,"x":1.38,"y":0.05},{"p":3,"s":0,"x":1.44,"y":0.14},{"p":3,"s":0,"x":1.5,"y":-0.03},{"p":3,"s":0,"x":1.56,"y":0.07},{"p":3,"s":0,"x":1.63,"y":-0.13},{"p":3,"s":0,"x":1.69,"y":0.2},{"p":3,"s":0,"x":1.75,"y":0.0},{"p":3,"s":0,"x":1.81,"y":-0.08},{"p":3,"s":0,"x":1.88,"y":0.02},{"p":3,"s":0,"x":1.94,"y":-0.06},{"p":3,"s":0,"x":2.0,"y":0.1},{"p":3,"s":0,"x":2.06,"y":-0.1},{"p":3,"s":0,"x":2.13,"y":0.05},{"p":3,"s":0,"x":2.19,"y":0.14},{"p":3,"s":0,"x":2.25,"y":-0.03},{"p":3,"s":0,"x":2.31,"y":0.07},{"p":3,"s":0,"x":2.38,"y":-0.13},{"p":3,"s":0,"x":2.46,"y":0.2},{"p":3,"s":0,"x":2.5,"y":0.0},{"p":3,"s":0,"x":2.56,"y":-0.08},{"p":3,"s":0,"x":2.63,"y":0.02},{"p":3,"s":0,"x":2.69,"y":-0.06},{"p":3,"s":0,"x":2.75,"y":0.1},{"p":3,"s":0,"x":2.81,"y":-0.1},{"p":3,"s":0,"x":2.88,"y":0.05},{"p":3,"s":0,"x":2.94,"y":0.14},{"p":3,"s":0,"x":3.01,"y":-0.03},{"p":3,"s":0,"x":3.08,"y":0.07},{"p":3,"s":0,"x":3.15,"y":-0.13},{"p":3,"s":0,"x":3.23,"y":0.2},{"p":3,"s":0,"x":3.3,"y":0.0},{"p":3,"s":0,"x":3.39,"y":-0.08},{"p":3,"s":0,"x":3.49,"y":0.02},{"p":3,"s":0,"x":3.56,"y":-0.06},{"p":3,"s":0,"x":3.66,"y":0.1},{"p":3,"s":0,"x":3.75,"y":-0.1},{"p":3,"s":0,"x":3.86,"y":0.05},{"p":3,"s":0,"x":3.95,"y":0.14},{"p":3,"s":0,"x":4.06,"y":-0.03},{"p":3,"s":0,"x":4.16,"y":0.07},{"p":3,"s":0,"x":4.25,"y":-0.13},{"p":3,"s":0,"x":4.4,"y":0.2},{"p":3,"s":0,"x":4.6,"y":0.1},{"p":3,"s":0,"x":4.75,"y":0.15},{"p":3,"s":0,"x":4.96,"y":0.12},{"p":3,"s":0,"x":5.13,"y":0.2},{"p":3,"s":0,"x":5.3,"y":0.08},{"p":3,"s":0,"x":5.56,"y":0.1},{"p":3,"s":0,"x":5.8,"y":0.05},{"p":3,"s":0,"x":6.14,"y":0.0},{"p":3,"s":0,"x":6.6,"y":0.08},{"p":3,"s":0,"x":6.89,"y":0.05},{"p":3,"s":0,"x":6.88,"y":0.12},{"p":3,"s":0,"x":6.2,"y":0.03},{"p":3,"s":0,"x":5.95,"y":0.05},{"p":3,"s":0,"x":-1.0,"y":0.12},{"p":3,"s":0,"x":-0.8,"y":-0.02},{"p":3,"s":0,"x":-0.6,"y":0.25},{"p":3,"s":0,"x":-0.4,"y":0.06},{"p":3,"s":0,"x":-0.2,"y":-0.1},{"p":3,"s":0,"x":0.0,"y":0.18},{"p":3,"s":0,"x":0.2,"y":0.03},{"p":3,"s":0,"x":0.4,"y":-0.05},{"p":3,"s":0,"x":0.6,"y":0.3},{"p":3,"s":0,"x":0.8,"y":0.09},{"p":3,"s":0,"x":1.0,"y":0.12},{"p":3,"s":0,"x":1.2,"y":-0.02},{"p":3,"s":0,"x":1.4,"y":0.25},{"p":3,"s":0,"x":1.6,"y":0.06},{"p":3,"s":0,"x":1.8,"y":-0.1},{"p":3,"s":0,"x":2.0,"y":0.18},{"p":3,"s":0,"x":2.2,"y":0.03},{"p":3,"s":0,"x":2.4,"y":-0.05},{"p":3,"s":0,"x":2.6,"y":0.3},{"p":3,"s":0,"x":2.8,"y":0.09},{"p":3,"s":0,"x":3.0,"y":0.12},{"p":3,"s":0,"x":3.2,"y":-0.02},{"p":3,"s":0,"x":3.4,"y":0.25},{"p":3,"s":0,"x":3.6,"y":0.06},{"p":3,"s":0,"x":3.8,"y":-0.1},{"p":3,"s":0,"x":-0.9,"y":0.3},{"p":3,"s":0,"x":0.3,"y":0.28},{"p":3,"s":0,"x":1.1,"y":0.33},{"p":3,"s":0,"x":1.7,"y":0.3},{"p":3,"s":0,"x":2.3,"y":0.22},{"p":3,"s":0,"x":0.7,"y":-0.15},{"p":3,"s":0,"x":1.5,"y":-0.14},{"p":3,"s":0,"x":-5.8,"y":-0.05},{"p":3,"s":0,"x":-4.45,"y":0.0},{"p":3,"s":0,"x":-3.85,"y":0.28},{"p":3,"s":0,"x":-2.6,"y":-0.1},{"p":3,"s":0,"x":-2.4,"y":-0.1},{"p":3,"s":0,"x":18.0,"y":-0.02},{"p":3,"s":0,"x":10.8,"y":0.45},{"p":3,"s":0,"x":10.85,"y":-0.05},{"p":3,"s":0,"x":9.3,"y":-0.02},{"p":3,"s":0,"x":9.25,"y":0.05},{"p":3,"s":0,"x":8.45,"y":-0.08},{"p":3,"s":0,"x":8.05,"y":-0.1},
{"p":3,"s":0,"x":-1.85,"y":0.12},{"p":3,"s":0,"x":-1.6,"y":0.22},{"p":3,"s":0,"x":-1.35,"y":-0.15},{"p":3,"s":0,"x":-1.15,"y":0.25},{"p":3,"s":0,"x":-0.95,"y":-0.12},{"p":3,"s":0,"x":-0.75,"y":0.22},{"p":3,"s":0,"x":-0.5,"y":0.3},{"p":3,"s":0,"x":-0.3,"y":-0.16},{"p":3,"s":0,"x":-0.15,"y":0.24},{"p":3,"s":0,"x":0.1,"y":0.32},{"p":3,"s":0,"x":0.25,"y":-0.14},{"p":3,"s":0,"x":0.45,"y":0.22},{"p":3,"s":0,"x":0.55,"y":0.35},{"p":3,"s":0,"x":0.85,"y":0.26},{"p":3,"s":0,"x":0.95,"y":-0.15},{"p":3,"s":0,"x":1.15,"y":0.22},{"p":3,"s":0,"x":1.3,"y":0.3},{"p":3,"s":0,"x":1.45,"y":-0.12},{"p":3,"s":0,"x":1.55,"y":0.24},{"p":3,"s":0,"x":1.75,"y":0.34},{"p":3,"s":0,"x":1.9,"y":-0.14},{"p":3,"s":0,"x":2.05,"y":0.26},{"p":3,"s":0,"x":2.15,"y":0.3},{"p":3,"s":0,"x":2.35,"y":0.18},{"p":3,"s":0,"x":2.55,"y":0.25},{"p":3,"s":0,"x":2.7,"y":-0.12},{"p":3,"s":0,"x":2.85,"y":0.28},{"p":3,"s":0,"x":3.05,"y":0.2},{"p":3,"s":0,"x":3.25,"y":0.26},{"p":3,"s":0,"x":3.4,"y":-0.1},{"p":3,"s":0,"x":3.55,"y":0.22},{"p":3,"s":0,"x":3.7,"y":0.16},{"p":3,"s":0,"x":3.9,"y":0.2},{"p":3,"s":0,"x":4.05,"y":0.05},{"p":3,"s":0,"x":4.15,"y":-0.06},{"p":3,"s":0,"x":4.3,"y":0.1},{"p":3,"s":0,"x":-1.5,"y":0.18},{"p":3,"s":0,"x":-1.05,"y":0.06},{"p":3,"s":0,"x":-0.65,"y":0.12},{"p":3,"s":0,"x":-0.05,"y":0.06},{"p":3,"s":0,"x":0.35,"y":0.14},{"p":3,"s":0,"x":0.75,"y":0.1},{"p":3,"s":0,"x":1.05,"y":0.18},{"p":3,"s":0,"x":1.65,"y":0.12},{"p":3,"s":0,"x":2.45,"y":0.1},{"p":3,"s":0,"x":2.95,"y":0.02},{"p":3,"s":0,"x":3.35,"y":0.12},{"p":3,"s":0,"x":3.85,"y":-0.04},{"p":3,"s":0,"x":0.15,"y":-0.08},{"p":3,"s":0,"x":1.25,"y":-0.05},{"p":3,"s":0,"x":2.65,"y":0.14},{"p":3,"s":0,"x":1.95,"y":0.22},{"p":3,"s":0,"x":0.6,"y":0.04},{"p":3,"s":0,"x":-0.25,"y":0.16},{"p":3,"s":0,"x":-1.25,"y":0.1},{"p":3,"s":0,"x":3.15,"y":0.3},{"p":3,"s":0,"x":2.25,"y":-0.12},{"p":3,"s":0,"x":1.85,"y":0.02},{"p":3,"s":0,"x":0.5,"y":-0.12},{"p":3,"s":0,"x":-0.45,"y":-0.05},
{"p":3,"s":1,"x":2.42,"y":9.87},{"p":3,"s":1,"x":0.94,"y":12.18},{"p":3,"s":1,"x":0.64,"y":6.9},{"p":3,"s":1,"x":3.09,"y":6.38},{"p":3,"s":1,"x":0.04,"y":4.66},{"p":3,"s":1,"x":2.08,"y":2.74},{"p":3,"s":1,"x":-0.77,"y":1.95},{"p":3,"s":1,"x":3.74,"y":2.03},{"p":3,"s":1,"x":0.06,"y":1.67},{"p":3,"s":1,"x":5.7,"y":1.7},{"p":3,"s":1,"x":2.76,"y":1.23},{"p":3,"s":1,"x":3.98,"y":1.28},{"p":3,"s":1,"x":4.19,"y":1.11},{"p":3,"s":1,"x":-0.23,"y":1.15},{"p":3,"s":1,"x":0.04,"y":1.1},{"p":3,"s":1,"x":-0.2,"y":0.62},{"p":3,"s":1,"x":0.75,"y":0.6},{"p":3,"s":1,"x":0.97,"y":0.45},{"p":3,"s":1,"x":1.29,"y":0.62},{"p":3,"s":1,"x":3.47,"y":0.49},{"p":3,"s":1,"x":4.19,"y":0.47},{"p":3,"s":1,"x":4.56,"y":0.44},{"p":3,"s":1,"x":5.02,"y":0.71},{"p":3,"s":1,"x":10.1,"y":0.49},{"p":3,"s":1,"x":1.84,"y":-0.47},{"p":3,"s":1,"x":0.85,"y":-1.03},{"p":3,"s":1,"x":2.33,"y":-0.84},{"p":3,"s":1,"x":2.54,"y":-0.79},{"p":3,"s":1,"x":9.86,"y":-0.92},{"p":3,"s":1,"x":-1.7,"y":-0.18},{"p":3,"s":1,"x":-1.3,"y":-0.2},{"p":3,"s":1,"x":-0.7,"y":-0.22},{"p":3,"s":1,"x":-0.6,"y":-0.15},{"p":3,"s":1,"x":0.05,"y":-0.18},{"p":3,"s":1,"x":1.7,"y":-0.2},{"p":3,"s":1,"x":2.85,"y":-0.18},{"p":3,"s":1,"x":3.3,"y":-0.15},{"p":3,"s":1,"x":3.5,"y":-0.13}
]
},
"vconcat": [
{
  "width": 800, "height": 427,
  "title": {"text": ["Flask Measured Enhancements", "of CO vs. CO₂ff"]},
  "encoding": {
    "x": {"field": "x", "type": "quantitative", "scale": {"domain": [-10, 20], "nice": false, "zero": false}, "axis": {"values": [-10, -5, 0, 5, 10, 15, 20], "title": "CO₂ffₓₛ (ppmv)"}},
    "y": {"field": "y", "type": "quantitative", "scale": {"domain": [-40, 140], "nice": false, "zero": false}, "axis": {"values": [-40, -20, 0, 20, 40, 60, 80, 100, 120, 140], "title": "COₓₛ  (ppbv)"}}
  },
  "layer": [
    {"data": {"name": "pts"}, "transform": [{"filter": "datum.p == 1"}], "mark": {"type": "circle", "size": 22, "opacity": 1},
     "encoding": {"color": {"condition": {"test": "datum.s == 1", "value": "#0000ff"}, "value": "#000000"}}},
    {"data": {"name": "lab"}, "transform": [{"filter": "datum.p == 1"}],
     "mark": {"type": "text", "align": "left", "baseline": "alphabetic", "font": "DejaVu Sans",
       "fontSize": {"expr": "datum.part == 'sup' || datum.part == 'sub' ? 16 : 23"},
       "dx": {"expr": "datum.part == 'sup' || datum.part == 'sub' ? 10.5 : datum.part == 'eq1' ? 21 : datum.part == 'eq2' ? 62 : 0"},
       "dy": {"expr": "datum.part == 'sup' ? -13 : datum.part == 'sub' ? 10 : 0"}},
     "encoding": {"text": {"field": "t"}, "color": {"condition": {"test": "datum.line == 'all'", "value": "#0000ff"}, "value": "#000000"}}}
  ]
},
{
  "width": 800, "height": 427,
  "title": {"text": ["Flask Measured Enhancements", "of HFC−134a vs. CO₂ff"]},
  "encoding": {
    "x": {"field": "x", "type": "quantitative", "scale": {"domain": [-10, 20], "nice": false, "zero": false}, "axis": {"values": [-10, -5, 0, 5, 10, 15, 20], "title": "CO₂ffₓₛ (ppmv)"}},
    "y": {"field": "y", "type": "quantitative", "scale": {"domain": [-100, 400], "nice": false, "zero": false}, "axis": {"values": [-100, 0, 100, 200, 300, 400], "title": "HFC−134aₓₛ  (pptv)"}}
  },
  "layer": [
    {"data": {"name": "pts"}, "transform": [{"filter": "datum.p == 2"}], "mark": {"type": "circle", "size": 22, "opacity": 1},
     "encoding": {"color": {"condition": {"test": "datum.s == 1", "value": "#0000ff"}, "value": "#000000"}}},
    {"data": {"name": "lab"}, "transform": [{"filter": "datum.p == 2"}],
     "mark": {"type": "text", "align": "left", "baseline": "alphabetic", "font": "DejaVu Sans",
       "fontSize": {"expr": "datum.part == 'sup' || datum.part == 'sub' ? 16 : 23"},
       "dx": {"expr": "datum.part == 'sup' || datum.part == 'sub' ? 10.5 : datum.part == 'eq1' ? 21 : datum.part == 'eq2' ? 62 : 0"},
       "dy": {"expr": "datum.part == 'sup' ? -13 : datum.part == 'sub' ? 10 : 0"}},
     "encoding": {"text": {"field": "t"}, "color": {"condition": {"test": "datum.line == 'all'", "value": "#0000ff"}, "value": "#000000"}}}
  ]
},
{
  "width": 800, "height": 427,
  "title": {"text": ["Flask Measured Enhancements", "of SF₆ vs. CO₂ff"]},
  "encoding": {
    "x": {"field": "x", "type": "quantitative", "scale": {"domain": [-10, 20], "nice": false, "zero": false}, "axis": {"values": [-10, -5, 0, 5, 10, 15, 20], "title": "CO₂ffₓₛ (ppmv)"}},
    "y": {"field": "y", "type": "quantitative", "scale": {"domain": [-2, 14], "nice": false, "zero": false}, "axis": {"values": [-2, 0, 2, 4, 6, 8, 10, 12, 14], "title": "SF₆,ₓₛ  (pptv)"}}
  },
  "layer": [
    {"data": {"name": "pts"}, "transform": [{"filter": "datum.p == 3"}], "mark": {"type": "circle", "size": 22, "opacity": 1},
     "encoding": {"color": {"condition": {"test": "datum.s == 1", "value": "#0000ff"}, "value": "#000000"}}},
    {"data": {"name": "lab"}, "transform": [{"filter": "datum.p == 3"}],
     "mark": {"type": "text", "align": "left", "baseline": "alphabetic", "font": "DejaVu Sans",
       "fontSize": {"expr": "datum.part == 'sup' || datum.part == 'sub' ? 16 : 23"},
       "dx": {"expr": "datum.part == 'sup' || datum.part == 'sub' ? 10.5 : datum.part == 'eq1' ? 21 : datum.part == 'eq2' ? 62 : 0"},
       "dy": {"expr": "datum.part == 'sup' ? -13 : datum.part == 'sub' ? 10 : 0"}},
     "encoding": {"text": {"field": "t"}, "color": {"condition": {"test": "datum.line == 'all'", "value": "#0000ff"}, "value": "#000000"}}}
  ]
}
]
}
